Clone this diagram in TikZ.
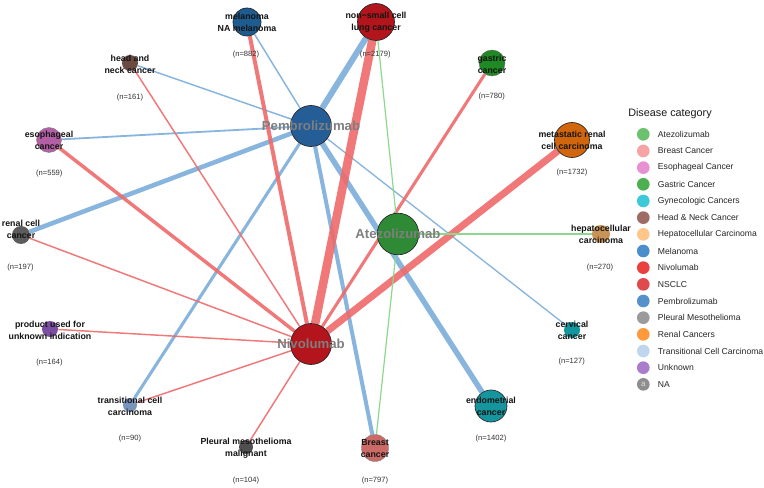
\documentclass[tikz,border=0pt]{standalone}
\usepackage{fontspec}
\setmainfont{Liberation Sans}
\usetikzlibrary{backgrounds}
\pgfdeclarelayer{edgelayer}
\pgfsetlayers{background,edgelayer,main}
\definecolor{cPem}{HTML}{255E96}
\definecolor{cAte}{HTML}{2F8A35}
\definecolor{cNiv}{HTML}{B4141B}
\definecolor{cMel}{HTML}{1E5C90}
\definecolor{cNsc}{HTML}{B2161C}
\definecolor{cGas}{HTML}{1F8A24}
\definecolor{cHnc}{HTML}{6B4A42}
\definecolor{cEso}{HTML}{B35FA6}
\definecolor{cRcc}{HTML}{5C5C5C}
\definecolor{cMrc}{HTML}{D2660C}
\definecolor{cHcc}{HTML}{C99357}
\definecolor{cCer}{HTML}{12979F}
\definecolor{cEnd}{HTML}{15969F}
\definecolor{cBre}{HTML}{CB6A67}
\definecolor{cPle}{HTML}{505050}
\definecolor{cTcc}{HTML}{7894BA}
\definecolor{cUnk}{HTML}{7A4EA0}
\definecolor{eBlue}{HTML}{7AADDA}
\definecolor{eRed}{HTML}{EF6A6A}
\definecolor{eGreen}{HTML}{8ED88E}
\definecolor{hubtext}{HTML}{7F7F7F}
\definecolor{L1}{HTML}{6DC06D}
\definecolor{L2}{HTML}{F5A3A3}
\definecolor{L3}{HTML}{E790D2}
\definecolor{L4}{HTML}{4CAF50}
\definecolor{L5}{HTML}{3DC9D9}
\definecolor{L6}{HTML}{9E6B65}
\definecolor{L7}{HTML}{FFC68C}
\definecolor{L8}{HTML}{4A8FCC}
\definecolor{L9}{HTML}{E8413F}
\definecolor{L10}{HTML}{E04A4D}
\definecolor{L11}{HTML}{5592CC}
\definecolor{L12}{HTML}{9B9B9B}
\definecolor{L13}{HTML}{FF9A3C}
\definecolor{L14}{HTML}{BFD6EE}
\definecolor{L15}{HTML}{A97DCC}
\definecolor{L16}{HTML}{8E8E8E}
\tikzset{
  bigc/.style={circle, inner sep=0pt, draw=black!85, line width=0.5pt},
  smallc/.style={circle, inner sep=0pt, draw=none},
  lbl/.style={font=\bfseries\fontsize{6.6}{9}\selectfont, align=center, text=black!92, inner sep=0pt},
  cnt/.style={font=\fontsize{5.7}{7}\selectfont, text=black!80, inner sep=0pt},
  hublbl/.style={font=\bfseries\fontsize{9.9}{12}\selectfont, text=hubtext, inner sep=0pt},
  eb/.style={draw=eBlue, draw opacity=0.9, line width=#1},
  er/.style={draw=eRed, draw opacity=0.9, line width=#1},
  eg/.style={draw=eGreen, line width=#1},
  legc/.style={circle, inner sep=0pt, minimum size=9.5pt},
  legt/.style={font=\fontsize{6.45}{8}\selectfont, text=black!85, anchor=west, inner sep=0pt},
}
\begin{document}
\begin{tikzpicture}[x=0.75pt, y=-0.75pt]
\begin{pgfonlayer}{background}
\fill[white] (0,0) rectangle (764,488);
\end{pgfonlayer}
\useasboundingbox (0,0) rectangle (764,488);
% hubs
\node[bigc, fill=cPem, minimum size=30.75pt] (pem) at (311,126) {};
\node[bigc, fill=cAte, minimum size=31.2pt] (ate) at (398,234) {};
\node[bigc, fill=cNiv, minimum size=30.75pt] (niv) at (311,344) {};
% leaves
\node[bigc, fill=cMel, minimum size=21pt] (mel) at (247,22) {};
\node[bigc, fill=cNsc, minimum size=27.75pt] (nsc) at (376,22) {};
\node[bigc, fill=cGas, minimum size=19.5pt, draw=black!60, line width=0.3pt] (gas) at (492,63) {};
\node[smallc, fill=cHnc, minimum size=12pt] (hnc) at (130,63) {};
\node[bigc, fill=cEso, minimum size=18.75pt, draw=black!50, line width=0.3pt] (eso) at (49,140) {};
\node[smallc, fill=cRcc, minimum size=13.5pt] (rcc) at (21,235) {};
\node[bigc, fill=cMrc, minimum size=26.25pt] (mrc) at (572,140) {};
\node[smallc, fill=cHcc, minimum size=13.5pt] (hcc) at (601,234) {};
\node[smallc, fill=cCer, minimum size=12pt] (cer) at (572,330) {};
\node[bigc, fill=cEnd, minimum size=24pt] (end) at (491,406) {};
\node[bigc, fill=cBre, minimum size=20.25pt, draw=black!50, line width=0.3pt] (bre) at (375,448) {};
\node[smallc, fill=cPle, minimum size=10.5pt] (ple) at (246,447) {};
\node[smallc, fill=cTcc, minimum size=10.5pt] (tcc) at (130,405) {};
\node[smallc, fill=cUnk, minimum size=12pt] (unk) at (50,329) {};
% edges
\begin{pgfonlayer}{edgelayer}
\draw[eb=1.1pt] (pem) -- (mel);
\draw[eb=1.1pt] (pem) -- (hnc);
\draw[eb=1.35pt] (pem) -- (eso);
\draw[eb=3.4pt] (pem) -- (rcc);
\draw[eb=4.5pt] (pem) -- (nsc);
\draw[eb=2.3pt] (pem) -- (tcc);
\draw[eb=3pt] (pem) -- (bre);
\draw[eb=4.1pt] (pem) -- (end);
\draw[eb=1pt] (pem) -- (cer);
\draw[er=3pt] (niv) -- (mel);
\draw[er=6.4pt] (niv) -- (nsc);
\draw[er=1.1pt] (niv) -- (hnc);
\draw[er=2.6pt] (niv) -- (eso);
\draw[er=1.1pt] (niv) -- (rcc);
\draw[er=1.1pt] (niv) -- (unk);
\draw[er=1.1pt] (niv) -- (tcc);
\draw[er=1.1pt] (niv) -- (ple);
\draw[er=2.3pt] (niv) -- (gas);
\draw[er=5.2pt] (niv) -- (mrc);
\draw[eg=0.9pt] (ate) -- (nsc);
\draw[eg=1.5pt] (ate) -- (hcc);
\draw[eg=0.9pt] (ate) -- (bre);
\end{pgfonlayer}
% hub labels
\node[hublbl] (tpem) at (pem) {Pembrolizumab};
\node[hublbl] (tate) at (ate) {Atezolizumab};
\node[hublbl] (tniv) at (niv) {Nivolumab};
% leaf labels
\node[lbl] (tmel) at (247,22) {melanoma\\NA melanoma};
\node[lbl] (tnsc) at (376,22) {non−small cell\\lung cancer};
\node[lbl] (tgas) at (492,64) {gastric\\cancer};
\node[lbl] (thnc) at (130,64) {head and\\neck cancer};
\node[lbl] (teso) at (49,140.5) {esophageal\\cancer};
\node[lbl] (trcc) at (21,229) {renal cell\\cancer};
\node[lbl] (tmrc) at (572,140) {metastatic renal\\cell carcinoma};
\node[lbl] (thcc) at (601,234) {hepatocellular\\carcinoma};
\node[lbl] (tcer) at (572,330) {cervical\\cancer};
\node[lbl] (tend) at (491,406) {endometrial\\cancer};
\node[lbl] (tbre) at (375,448.5) {Breast\\cancer};
\node[lbl] (tple) at (246,448.5) {Pleural mesothelioma\\malignant};
\node[lbl] (ttcc) at (130,406) {transitional cell\\carcinoma};
\node[lbl] (tunk) at (50,330) {product used for\\unknown indication};
% counts
\node[cnt] (nmel) at (246,54.7) {(n=882)};
\node[cnt] (nnsc) at (375.3,55) {(n=2179)};
\node[cnt] (ngas) at (491.7,96.7) {(n=780)};
\node[cnt] (nhnc) at (130,97.5) {(n=161)};
\node[cnt] (neso) at (49.3,173.7) {(n=559)};
\node[cnt] (nrcc) at (20.5,268) {(n=197)};
\node[cnt] (nmrc) at (572,173) {(n=1732)};
\node[cnt] (nhcc) at (600,268) {(n=270)};
\node[cnt] (ncer) at (571.7,362) {(n=127)};
\node[cnt] (nend) at (491,439) {(n=1402)};
\node[cnt] (nbre) at (375,481) {(n=797)};
\node[cnt] (nple) at (246,481) {(n=104)};
\node[cnt] (ntcc) at (130,439) {(n=90)};
\node[cnt] (nunk) at (49.5,363) {(n=164)};
% legend
\node[font=\fontsize{8.1}{10}\selectfont, anchor=west, inner sep=0pt, text=black!90] (legtitle) at (628,113.3) {Disease category};
\foreach \i/\t [count=\k from 0] in {1/Atezolizumab, 2/Breast Cancer, 3/Esophageal Cancer, 4/Gastric Cancer, 5/Gynecologic Cancers, 6/Head \& Neck Cancer, 7/Hepatocellular Carcinoma, 8/Melanoma, 9/Nivolumab, 10/NSCLC, 11/Pembrolizumab, 12/Pleural Mesothelioma, 13/Renal Cancers, 14/Transitional Cell Carcinoma, 15/Unknown, 16/NA} {
  \node[legc, fill=L\i] (lgc\i) at (643.3, 134.3+16.67*\k) {};
  \node[legt] (lgt\i) at (657.7, 134.3+16.67*\k) {\t};
}
\node[font=\fontsize{6}{6}\selectfont, text=white!75!gray, inner sep=0pt] (lgna) at (lgc16) {a};
\end{tikzpicture}
\end{document}
